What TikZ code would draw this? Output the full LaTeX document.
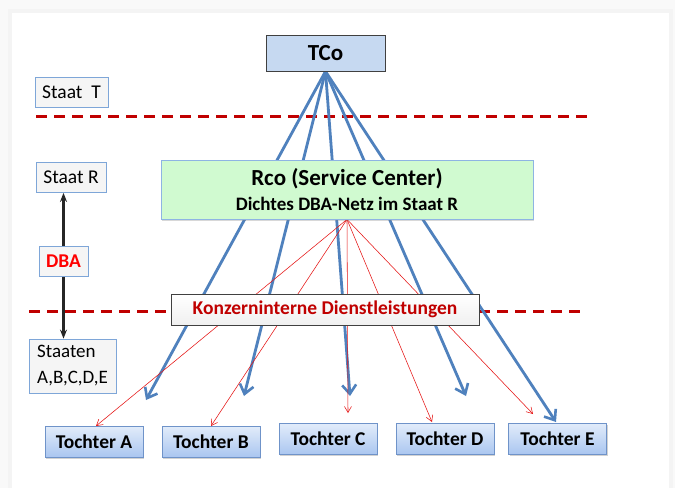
\documentclass[tikz,border=0pt]{standalone}
\usepackage{fontspec}
\setmainfont{Carlito}
\usetikzlibrary{arrows.meta,shadows,calc}
\definecolor{bluearr}{RGB}{79,129,189}
\definecolor{dashred}{RGB}{192,0,0}
\definecolor{thinred}{RGB}{230,20,20}
\definecolor{tcofill}{RGB}{198,217,241}
\definecolor{rcofill}{RGB}{208,250,208}
\definecolor{rcoborder}{RGB}{142,180,227}
\definecolor{staatborder}{RGB}{126,166,216}
\definecolor{tochtop}{RGB}{226,236,250}
\definecolor{tochbot}{RGB}{170,198,240}
\definecolor{tochborder}{RGB}{111,147,201}
\definecolor{konzred}{RGB}{192,0,0}
\pgfdeclarelayer{back}
\pgfdeclarelayer{bg}
\pgfsetlayers{back,bg,main}
\tikzset{
  staatbox/.style={draw=staatborder, fill=gray!8, line width=0.8pt, inner sep=3pt, font=\fontsize{19.5}{22}\selectfont},
  tochbox/.style={draw=tochborder, line width=0.8pt, top color=tochtop, bottom color=tochbot, minimum width=98pt, minimum height=31pt, font=\fontsize{19.5}{21}\selectfont\bfseries, drop shadow={opacity=0.35, shadow xshift=1pt, shadow yshift=-1.5pt}},
  bluearrow/.style={draw=bluearr, line width=2.8pt, -{Straight Barb[length=9pt,width=14pt,line width=2.6pt]}},
  redarrow/.style={draw=thinred, line width=0.55pt, -{Straight Barb[length=6pt,width=7pt]}},
  dashline/.style={draw=dashred, line width=3pt, dash pattern=on 11pt off 7pt},
}
\begin{document}
\begin{tikzpicture}[x=1pt,y=-1pt]
\useasboundingbox (0,0) rectangle (675,488);
\begin{pgfonlayer}{back}
\fill[gray!5] (0,0) rectangle (675,488);
\fill[gray!9] (8,9) rectangle (673,488);
\fill[white] (12,13) rectangle (669,488);
\end{pgfonlayer}

% boxes
\node[draw=black!75, fill=tcofill, line width=0.8pt, minimum width=119pt, minimum height=36pt, font=\fontsize{23}{25}\selectfont\bfseries] (tco) at (325.5,53) {TCo};
\node[staatbox, minimum width=73pt, minimum height=30pt] (sT) at (71.5,92) {Staat\ \ T};
\node[staatbox, minimum width=70pt, minimum height=30pt] (sR) at (71,177.5) {Staat R};
\node[staatbox, minimum width=87pt, minimum height=54pt, align=left, font=\fontsize{19}{26}\selectfont] (sS) at (72.5,366) {Staaten\\A,B,C,D,E};
\node[draw=rcoborder, fill=rcofill, line width=0.8pt, minimum width=372pt, minimum height=59pt, align=center, drop shadow={opacity=0.3, shadow xshift=1pt, shadow yshift=-1.5pt}] (rco) at (347,189.5) {{\fontsize{23}{25}\selectfont\bfseries Rco (Service Center)}\\[7pt]{\fontsize{19}{20}\selectfont\bfseries Dichtes DBA-Netz im Staat R}};
\node[draw=black!75, line width=0.8pt, top color=white, bottom color=gray!12, minimum width=308pt, minimum height=31pt, text=konzred, font=\fontsize{19.5}{21}\selectfont\bfseries] (konz) at (325,309.5) {Konzerninterne Dienstleistungen};
\node[tochbox] (tA) at (94,441.5) {Tochter A};
\node[tochbox] (tB) at (211,441.5) {Tochter B};
\node[tochbox] (tC) at (328,439) {Tochter C};
\node[tochbox] (tD) at (445,439) {Tochter D};
\node[tochbox] (tE) at (557.5,438.5) {Tochter E};

% arrow tips
\coordinate (bA) at (146,400);
\coordinate (bB) at (244,396);
\coordinate (bC) at (350,396);
\coordinate (bD) at (466,396);
\coordinate (bE) at (556,422);
\coordinate (rA) at (96,426);
\coordinate (rB) at (211,426);
\coordinate (rC) at (348,413);
\coordinate (rD) at (432,422);
\coordinate (rE) at (533,414);
\coordinate (d1a) at (36,116);
\coordinate (d1b) at (590,116);
\coordinate (d2a) at (29,311);
\coordinate (d2b) at (582,311);

\begin{pgfonlayer}{bg}
\draw[dashline] (d1a) -- (d1b);
\draw[dashline] (d2a) -- (d2b);
\foreach \t in {bA,bB,bC,bD,bE}
  \draw[bluearrow] (tco.south) -- (\t);
\foreach \t in {rA,rB,rC,rD,rE}
  \draw[redarrow] (rco.south) -- (\t);
\coordinate (dbapos) at (63.5,261);
\draw[black!85, line width=2.2pt, {Stealth[length=9pt,width=7pt]}-{Stealth[length=9pt,width=7pt]}] (dbapos |- sR.south) -- (dbapos |- sS.north);
\end{pgfonlayer}
\node[draw=staatborder, fill=gray!8, line width=0.8pt, minimum width=49pt, minimum height=30pt, text=red, font=\fontsize{19.5}{21}\selectfont\bfseries] (dba) at (dbapos) {DBA};
\end{tikzpicture}
\end{document}
